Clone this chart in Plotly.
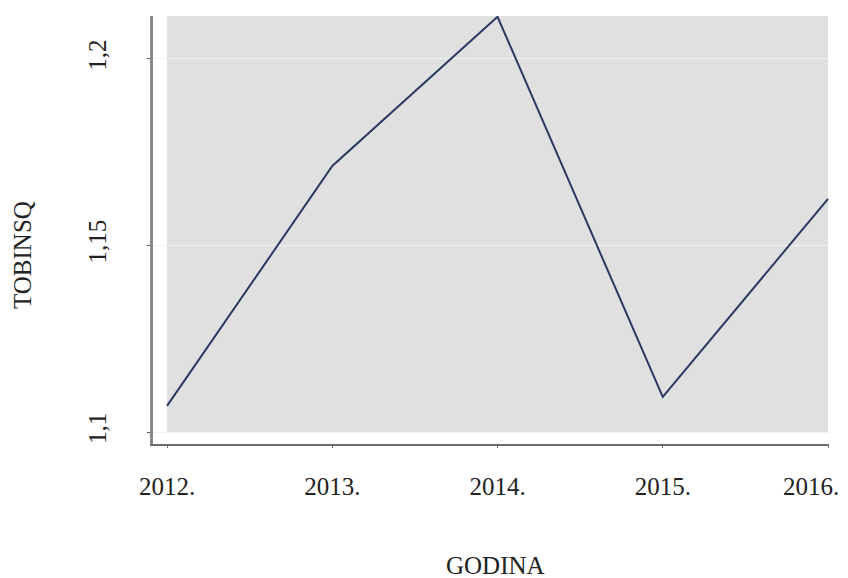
import plotly.graph_objects as go

# data
years = [2012, 2013, 2014, 2015, 2016]
year_labels = ["2012.", "2013.", "2014.", "2015.", "2016."]
tobinsq = [1.107, 1.1713, 1.2113, 1.1094, 1.1625]
y_ticks = [1.1, 1.15, 1.2]
y_tick_labels = ["1,1", "1,15", "1,2"]

font = "Liberation Serif, Times New Roman, serif"

fig = go.Figure()
fig.add_trace(go.Scatter(
    x=years, y=tobinsq, mode="lines",
    line=dict(color="#2b3862", width=2),
    showlegend=False, hoverinfo="x+y"
))

# gray panel only over the data extent (axes sit a bit outside it)
fig.add_shape(type="rect", xref="x", yref="y",
              x0=years[0], x1=years[-1], y0=1.1, y1=1.2115,
              fillcolor="#e0e0e0", line_width=0, layer="below")

# last year label is pulled in from the edge, like in the original
fig.update_xaxes(
    range=[2011.915, 2016.006], automargin=False,
    tickvals=years, ticktext=year_labels[:-1] + [""],
    showline=True, linecolor="#6e6e6e", linewidth=2,
    ticks="outside", ticklen=2, tickcolor="#6e6e6e",
    showgrid=False, zeroline=False,
    tickfont=dict(family=font, size=25, color="#222"),
    ticklabelstandoff=17
)
fig.update_yaxes(
    range=[1.0968, 1.2115], automargin=False,
    tickvals=y_ticks, ticktext=y_tick_labels,
    showline=True, linecolor="#888888", linewidth=3,
    ticks="outside", ticklen=3, tickcolor="#555",
    showgrid=True, gridcolor="#eef2f0", gridwidth=1,
    zeroline=False, tickangle=-90,
    tickfont=dict(family=font, size=25, color="#222"),
    ticklabelstandoff=31
)

fig.add_annotation(text=year_labels[-1], xref="x", yref="paper",
                   x=years[-1], y=-0.099, xshift=-17, showarrow=False,
                   xanchor="center", yanchor="middle",
                   font=dict(family=font, size=25, color="#222"))
fig.add_annotation(text="TOBINSQ", xref="paper", yref="paper",
                   x=-0.192, y=0.442, textangle=-90, showarrow=False,
                   xanchor="center", yanchor="middle",
                   font=dict(family=font, size=25, color="#222"))
fig.add_annotation(text="GODINA", xref="paper", yref="paper",
                   x=0.507, y=-0.283, showarrow=False,
                   xanchor="center", yanchor="middle",
                   font=dict(family=font, size=25, color="#222"))

# margins account for the page's default body offset
fig.update_layout(
    width=848, height=578,
    margin=dict(l=145, r=27, t=8, b=142),
    plot_bgcolor="white", paper_bgcolor="white",
)

fig.write_html("out.html")
